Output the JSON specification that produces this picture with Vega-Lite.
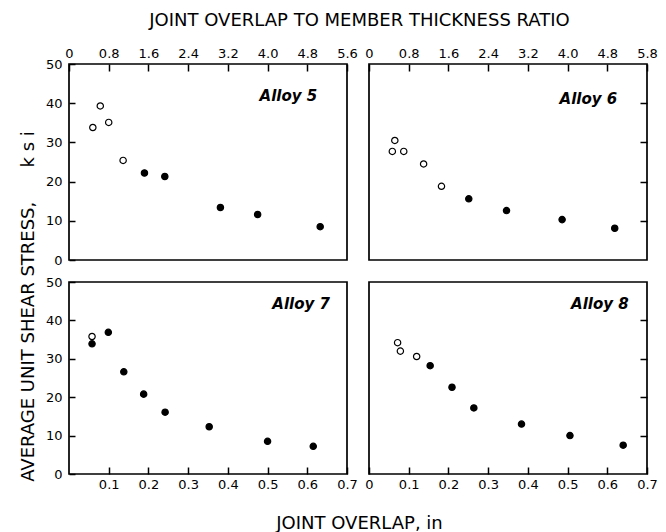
{
  "$schema": "https://vega.github.io/schema/vega-lite/v6.json",
  "background": "white",
  "padding": {"left": 18, "top": 10, "right": 5, "bottom": 2},
  "config": {
    "font": "DejaVu Sans",
    "view": {"stroke": "black", "strokeWidth": 1.7},
    "axis": {
      "grid": false,
      "domain": false,
      "labelFont": "DejaVu Sans",
      "labelFontSize": 13,
      "labelColor": "black",
      "labelOverlap": false,
      "labelBound": false,
      "tickCount": 20,
      "tickColor": "black",
      "tickWidth": 1.5,
      "titleFont": "DejaVu Sans",
      "titleFontSize": 18,
      "titleFontWeight": "normal",
      "titleColor": "black"
    }
  },
  "datasets": {
    "alloy5": [
      {"ratio": 0.48, "stress": 33.8, "type": "open"},
      {"ratio": 0.63, "stress": 39.3, "type": "open"},
      {"ratio": 0.80, "stress": 35.1, "type": "open"},
      {"ratio": 1.09, "stress": 25.4, "type": "open"},
      {"ratio": 1.52, "stress": 22.2, "type": "filled"},
      {"ratio": 1.93, "stress": 21.3, "type": "filled"},
      {"ratio": 3.05, "stress": 13.4, "type": "filled"},
      {"ratio": 3.80, "stress": 11.6, "type": "filled"},
      {"ratio": 5.06, "stress": 8.5, "type": "filled"}
    ],
    "alloy6": [
      {"ratio": 0.52, "stress": 30.5, "type": "open"},
      {"ratio": 0.47, "stress": 27.7, "type": "open"},
      {"ratio": 0.70, "stress": 27.7, "type": "open"},
      {"ratio": 1.10, "stress": 24.5, "type": "open"},
      {"ratio": 1.46, "stress": 18.8, "type": "open"},
      {"ratio": 2.01, "stress": 15.6, "type": "filled"},
      {"ratio": 2.77, "stress": 12.6, "type": "filled"},
      {"ratio": 3.89, "stress": 10.3, "type": "filled"},
      {"ratio": 4.95, "stress": 8.1, "type": "filled"}
    ],
    "alloy7": [
      {"overlap": 0.058, "stress": 35.8, "type": "open"},
      {"overlap": 0.058, "stress": 33.9, "type": "filled"},
      {"overlap": 0.099, "stress": 36.9, "type": "filled"},
      {"overlap": 0.138, "stress": 26.6, "type": "filled"},
      {"overlap": 0.188, "stress": 20.8, "type": "filled"},
      {"overlap": 0.242, "stress": 16.1, "type": "filled"},
      {"overlap": 0.353, "stress": 12.3, "type": "filled"},
      {"overlap": 0.500, "stress": 8.5, "type": "filled"},
      {"overlap": 0.615, "stress": 7.2, "type": "filled"}
    ],
    "alloy8": [
      {"overlap": 0.072, "stress": 34.2, "type": "open"},
      {"overlap": 0.079, "stress": 32.0, "type": "open"},
      {"overlap": 0.120, "stress": 30.6, "type": "open"},
      {"overlap": 0.154, "stress": 28.2, "type": "filled"},
      {"overlap": 0.209, "stress": 22.6, "type": "filled"},
      {"overlap": 0.264, "stress": 17.2, "type": "filled"},
      {"overlap": 0.384, "stress": 13.0, "type": "filled"},
      {"overlap": 0.506, "stress": 10.0, "type": "filled"},
      {"overlap": 0.640, "stress": 7.5, "type": "filled"}
    ]
  },
  "columns": 2,
  "spacing": 22,
  "bounds": "flush",
  "concat": [
    {
      "width": 278,
      "height": 196,
      "layer": [
        {
          "data": {"name": "alloy5"},
          "mark": {"type": "point", "shape": "circle", "filled": true, "size": 40, "stroke": "black", "strokeWidth": 1.2, "opacity": 1},
          "encoding": {
            "x": {"field": "ratio", "type": "quantitative",
              "scale": {"domain": [0, 5.6], "nice": false},
              "axis": {"orient": "top", "values": [0, 0.8, 1.6, 2.4, 3.2, 4.0, 4.8, 5.6], "tickCount": 20,
                "labelExpr": "datum.value == 0 ? '0' : format(datum.value, '.1f')",
                "labelOverlap": false,
                "tickSize": -7, "labelPadding": 11, "labelFlush": false,
                "title": "JOINT OVERLAP TO MEMBER THICKNESS RATIO",
                "titleX": 290, "titleY": -44, "titleBaseline": "middle", "titleAnchor": "middle", "titleAlign": "center"}},
            "y": {"field": "stress", "type": "quantitative",
              "scale": {"domain": [0, 50], "nice": false},
              "axis": {"orient": "left", "values": [0, 10, 20, 30, 40, 50], "tickCount": 20, "labelOverlap": false, "tickSize": -6, "labelPadding": 13, "labelFlush": false, "title": null}},
            "fill": {"field": "type", "type": "nominal", "scale": {"domain": ["open", "filled"], "range": ["white", "black"]}, "legend": null}
          }
        },
        {
          "data": {"values": [{"alloy": "Alloy 5"}]},
          "mark": {"type": "text", "align": "right", "baseline": "middle", "font": "DejaVu Sans", "fontSize": 15, "fontStyle": "italic", "fontWeight": "bold", "color": "black"},
          "encoding": {
            "x": {"datum": 5.0, "type": "quantitative"},
            "y": {"datum": 41.8, "type": "quantitative"},
            "text": {"field": "alloy"}
          }
        }
      ]
    },
    {
      "width": 278,
      "height": 196,
      "layer": [
        {
          "data": {"name": "alloy6"},
          "mark": {"type": "point", "shape": "circle", "filled": true, "size": 40, "stroke": "black", "strokeWidth": 1.2, "opacity": 1},
          "encoding": {
            "x": {"field": "ratio", "type": "quantitative",
              "scale": {"domain": [0, 5.6], "nice": false},
              "axis": {"orient": "top", "values": [0, 0.8, 1.6, 2.4, 3.2, 4.0, 4.8, 5.6], "tickCount": 20,
                "labelExpr": "datum.value == 0 ? '0' : datum.value == 5.6 ? '5.8' : format(datum.value, '.1f')",
                "labelOverlap": false,
                "tickSize": -7, "labelPadding": 11, "labelFlush": false, "title": null}},
            "y": {"field": "stress", "type": "quantitative",
              "scale": {"domain": [0, 50], "nice": false},
              "axis": {"orient": "right", "values": [10, 20, 30, 40], "tickCount": 20, "tickSize": -7, "labels": false, "title": null}},
            "fill": {"field": "type", "type": "nominal", "scale": {"domain": ["open", "filled"], "range": ["white", "black"]}, "legend": null}
          }
        },
        {
          "data": {"values": [{"alloy": "Alloy 6"}]},
          "mark": {"type": "text", "align": "right", "baseline": "middle", "font": "DejaVu Sans", "fontSize": 15, "fontStyle": "italic", "fontWeight": "bold", "color": "black"},
          "encoding": {
            "x": {"datum": 5.0, "type": "quantitative"},
            "y": {"datum": 41, "type": "quantitative"},
            "text": {"field": "alloy"}
          }
        }
      ]
    },
    {
      "width": 278,
      "height": 192,
      "layer": [
        {
          "data": {"name": "alloy7"},
          "mark": {"type": "point", "shape": "circle", "filled": true, "size": 40, "stroke": "black", "strokeWidth": 1.2, "opacity": 1},
          "encoding": {
            "x": {"field": "overlap", "type": "quantitative",
              "scale": {"domain": [0, 0.7], "nice": false},
              "axis": {"orient": "bottom", "values": [0.1, 0.2, 0.3, 0.4, 0.5, 0.6, 0.7], "tickCount": 20,
                "labelExpr": "format(datum.value, '.1f')",
                "labelOverlap": false,
                "tickSize": -7, "labelPadding": 11, "labelFlush": false,
                "title": "JOINT OVERLAP, in",
                "titleX": 290, "titleY": 49, "titleBaseline": "middle", "titleAnchor": "middle", "titleAlign": "center"}},
            "y": {"field": "stress", "type": "quantitative",
              "scale": {"domain": [0, 50], "nice": false},
              "axis": {"orient": "left", "values": [0, 10, 20, 30, 40, 50], "tickCount": 20, "labelOverlap": false, "tickSize": -6, "labelPadding": 13, "labelFlush": false,
                "title": "AVERAGE UNIT SHEAR STRESS,\u00a0\u00a0\u00a0\u00a0\u00a0\u00a0k s i",
                "titleX": -41, "titleY": 24, "titleAngle": -90, "titleBaseline": "middle", "titleAlign": "center"}},
            "fill": {"field": "type", "type": "nominal", "scale": {"domain": ["open", "filled"], "range": ["white", "black"]}, "legend": null}
          }
        },
        {
          "data": {"values": [{"alloy": "Alloy 7"}]},
          "mark": {"type": "text", "align": "right", "baseline": "middle", "font": "DejaVu Sans", "fontSize": 15, "fontStyle": "italic", "fontWeight": "bold", "color": "black"},
          "encoding": {
            "x": {"datum": 0.657, "type": "quantitative"},
            "y": {"datum": 44.3, "type": "quantitative"},
            "text": {"field": "alloy"}
          }
        }
      ]
    },
    {
      "width": 278,
      "height": 192,
      "layer": [
        {
          "data": {"name": "alloy8"},
          "mark": {"type": "point", "shape": "circle", "filled": true, "size": 40, "stroke": "black", "strokeWidth": 1.2, "opacity": 1},
          "encoding": {
            "x": {"field": "overlap", "type": "quantitative",
              "scale": {"domain": [0, 0.7], "nice": false},
              "axis": {"orient": "bottom", "values": [0, 0.1, 0.2, 0.3, 0.4, 0.5, 0.6, 0.7], "tickCount": 20,
                "labelExpr": "datum.value == 0 ? '0' : format(datum.value, '.1f')",
                "labelOverlap": false,
                "tickSize": -7, "labelPadding": 11, "labelFlush": false, "title": null}},
            "y": {"field": "stress", "type": "quantitative",
              "scale": {"domain": [0, 50], "nice": false},
              "axis": {"orient": "right", "values": [10, 20, 30, 40], "tickCount": 20, "tickSize": -7, "labels": false, "title": null}},
            "fill": {"field": "type", "type": "nominal", "scale": {"domain": ["open", "filled"], "range": ["white", "black"]}, "legend": null}
          }
        },
        {
          "data": {"values": [{"alloy": "Alloy 8"}]},
          "mark": {"type": "text", "align": "right", "baseline": "middle", "font": "DejaVu Sans", "fontSize": 15, "fontStyle": "italic", "fontWeight": "bold", "color": "black"},
          "encoding": {
            "x": {"datum": 0.654, "type": "quantitative"},
            "y": {"datum": 44.3, "type": "quantitative"},
            "text": {"field": "alloy"}
          }
        }
      ]
    }
  ]
}
